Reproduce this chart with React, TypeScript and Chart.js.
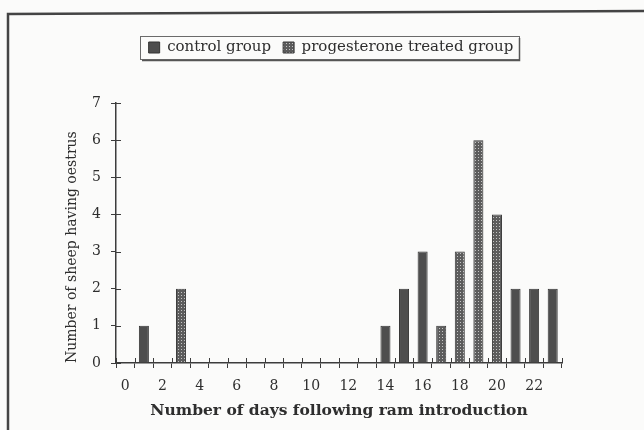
import React, { useEffect, useRef } from 'react';
import { Chart, registerables } from 'chart.js';

Chart.register(...registerables);

const days = ['0', '1', '2', '3', '4', '5', '6', '7', '8', '9', '10', '11', '12', '13', '14', '15', '16', '17', '18', '19', '20', '21', '22', '23'];
const controlGroup = [null, 1, null, null, null, null, null, null, null, null, null, null, null, null, 1, 2, 3, null, null, null, null, 2, 2, 2];
const progesteroneGroup = [null, null, null, 2, null, null, null, null, null, null, null, null, null, null, null, null, null, 1, 3, 6, 4, null, null, null];
const seriesNames = ['control group', 'progesterone treated group'];
const yMin = 0;
const yMax = 7;
const xTitle = 'Number of days following ram introduction';
const yTitle = 'Number of sheep having oestrus';

const INK = '#2e2e2e';
const AXIS = '#3c3c3c';
const FONT = "'DejaVu Serif', 'Liberation Serif', serif";
const LEGEND_SHIFT = 18;

function makePattern(): CanvasPattern | string {
  const c = document.createElement('canvas');
  c.width = 3;
  c.height = 3;
  const g = c.getContext('2d');
  if (!g) return '#666';
  g.fillStyle = '#5c5c5c';
  g.fillRect(0, 0, 3, 3);
  g.fillStyle = '#c4c4c4';
  g.fillRect(1, 1, 1, 1);
  const p = g.createPattern(c, 'repeat');
  return p || '#666';
}

const framePlugin = {
  id: 'frame',
  afterLayout(chart: any) {
    const lg = chart.legend;
    if (lg) {
      lg.left += LEGEND_SHIFT;
      lg.right += LEGEND_SHIFT;
    }
  },
  beforeDraw(chart: any) {
    const { ctx, width, height } = chart;
    ctx.save();
    ctx.fillStyle = '#fbfbfa';
    ctx.fillRect(0, 0, width, height);
    ctx.strokeStyle = '#444';
    ctx.lineWidth = 2.5;
    ctx.beginPath();
    ctx.moveTo(8, height);
    ctx.lineTo(8, 14);
    ctx.lineTo(width, 11);
    ctx.stroke();
    ctx.restore();
  },
};

const crossTicksPlugin = {
  id: 'crossTicks',
  afterDraw(chart: any) {
    const { ctx, chartArea, scales } = chart;
    const x = scales.x;
    const y = scales.y;
    ctx.save();
    ctx.strokeStyle = AXIS;
    ctx.lineWidth = 1;
    ctx.beginPath();
    y.ticks.forEach((t: any) => {
      const py = Math.round(y.getPixelForValue(t.value)) + 0.5;
      ctx.moveTo(chartArea.left, py);
      ctx.lineTo(chartArea.left + 5, py);
    });
    const n = x.ticks.length;
    const half = (x.getPixelForValue(1) - x.getPixelForValue(0)) / 2;
    for (let i = 0; i <= n; i++) {
      const px = Math.round(x.getPixelForValue(i) - half) + 0.5;
      ctx.moveTo(px, chartArea.bottom);
      ctx.lineTo(px, chartArea.bottom - 5);
    }
    ctx.stroke();

    const lg = chart.legend;
    if (lg && lg.legendHitBoxes && lg.legendHitBoxes.length) {
      const hb = lg.legendHitBoxes;
      let l = Infinity, r = -Infinity, t = Infinity, b = -Infinity;
      hb.forEach((h: any) => {
        l = Math.min(l, h.left);
        r = Math.max(r, h.left + h.width);
        t = Math.min(t, h.top);
        b = Math.max(b, h.top + h.height);
      });
      l -= 9; r += 5; t -= 4; b += 4;
      ctx.strokeStyle = '#6a6a6a';
      ctx.lineWidth = 1;
      ctx.strokeRect(Math.round(l) + 0.5, Math.round(t) + 0.5, Math.round(r - l), Math.round(b - t));
      ctx.strokeStyle = '#555';
      ctx.lineWidth = 1.5;
      ctx.beginPath();
      ctx.moveTo(Math.round(r) + 1.5, Math.round(t) + 2);
      ctx.lineTo(Math.round(r) + 1.5, Math.round(b) + 1.5);
      ctx.lineTo(Math.round(l) + 2, Math.round(b) + 1.5);
      ctx.stroke();
    }
    ctx.restore();
  },
};

export default function App() {
  const ref = useRef<HTMLCanvasElement | null>(null);
  useEffect(() => {
    if (!ref.current) return;
    const pattern = makePattern();
    const chart = new Chart(ref.current, {
      type: 'bar',
      data: {
        labels: days,
        datasets: [
          {
            label: seriesNames[0],
            data: controlGroup,
            backgroundColor: '#4e4e4e',
            borderColor: '#333',
            borderWidth: 1,
            grouped: false,
            categoryPercentage: 1,
            barPercentage: 0.54,
          } as any,
          {
            label: seriesNames[1],
            data: progesteroneGroup,
            backgroundColor: pattern as any,
            borderColor: '#3a3a3a',
            borderWidth: 1,
            grouped: false,
            categoryPercentage: 1,
            barPercentage: 0.54,
          } as any,
        ],
      },
      options: {
        animation: false,
        responsive: false,
        devicePixelRatio: 1,
        layout: { padding: { left: 64, right: 82, top: 28, bottom: 10 } },
        plugins: {
          tooltip: { enabled: false },
          legend: {
            position: 'top',
            align: 'center',
            labels: {
              color: INK,
              font: { family: FONT, size: 15 },
              boxWidth: 11,
              boxHeight: 11,
              padding: 12,
            },
          } as any,
          subtitle: {
            display: true,
            text: '',
            position: 'top',
            weight: 500,
            font: { size: 10 },
            padding: { top: 0, bottom: 26 },
          } as any,
        },
        scales: {
          x: {
            offset: true,
            grid: { display: true, drawOnChartArea: false, offset: true, tickLength: 5, color: AXIS, lineWidth: 1 },
            border: { display: true, color: AXIS, width: 1.5 },
            ticks: {
              autoSkip: false,
              maxRotation: 0,
              color: INK,
              font: { family: FONT, size: 14 },
              padding: 10,
              callback: (_v: any, i: number) => (i % 2 === 0 ? days[i] : ''),
            },
            title: {
              display: true,
              text: xTitle,
              color: INK,
              font: { family: FONT, size: 15.5, weight: 'bold' },
              padding: 0,
            },
            afterFit: (s: any) => { s.height = 57; },
          },
          y: {
            min: yMin,
            max: yMax,
            grid: { display: true, drawOnChartArea: false, tickLength: 5, color: AXIS, lineWidth: 1 },
            border: { display: true, color: AXIS, width: 1.5 },
            ticks: {
              stepSize: 1,
              color: INK,
              font: { family: FONT, size: 14 },
              padding: 10,
            },
            title: {
              display: true,
              text: yTitle,
              align: 'start',
              color: INK,
              font: { family: FONT, size: 14 },
              padding: 0,
            },
            afterFit: (s: any) => { s.width = 52; },
          },
        },
      },
      plugins: [framePlugin, crossTicksPlugin],
    });
    return () => chart.destroy();
  }, []);
  return (
    <div style={{ position: 'absolute', left: 0, top: 0, width: 644, height: 430, background: '#fbfbfa' }}>
      <canvas ref={ref} width={644} height={430} />
    </div>
  );
}
